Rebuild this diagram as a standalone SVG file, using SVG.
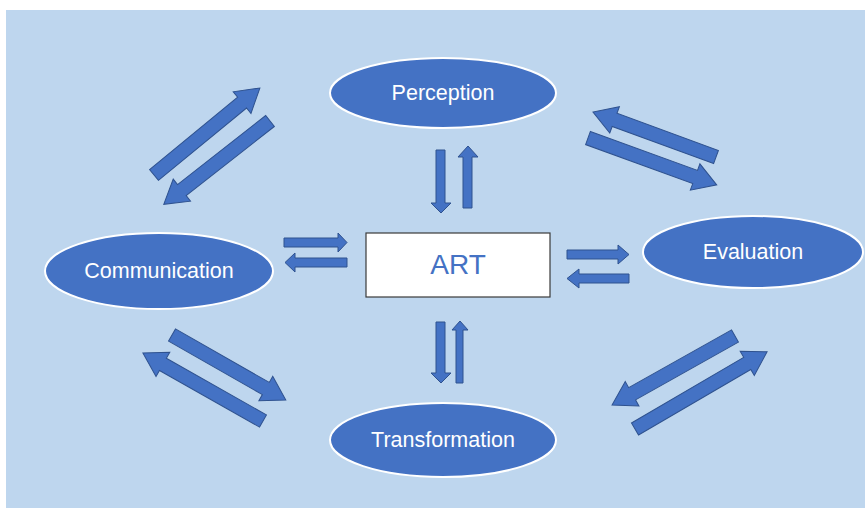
<svg xmlns="http://www.w3.org/2000/svg" width="865" height="510" viewBox="0 0 865 510">
  <style>
    .node { fill: #4472C4; stroke: #FFFFFF; stroke-width: 2; }
    .label { font-family: "Liberation Sans", Arial, sans-serif; font-size: 21.5px; fill: #FFFFFF; text-anchor: middle; dominant-baseline: central; }
    .arrow { fill: #4472C4; stroke: #2F528F; stroke-width: 1; stroke-linejoin: miter; }
    .core { fill: #FFFFFF; stroke: #3A3A3A; stroke-width: 1.2; }
    .core-label { font-family: "Liberation Sans", Arial, sans-serif; font-size: 28px; fill: #4472C4; text-anchor: middle; dominant-baseline: central; }
  </style>

  <!-- page -->
  <rect x="0" y="0" width="865" height="510" fill="#FFFFFF"/>
  <rect x="6" y="10" width="859" height="498" fill="#BED6EE"/>

  <!-- block arrows: local frame, tail at origin, pointing along +x -->
  <g id="connectors">
    <!-- Communication <-> Perception -->
    <path class="arrow" transform="translate(154,175) rotate(-39.4)" d="M0,-7 H114 V-14 L137,0 L114,14 V7 H0 Z"/>
    <path class="arrow" transform="translate(270,121) rotate(141.9)" d="M0,-7 H112 V-14 L135,0 L112,14 V7 H0 Z"/>
    <!-- Perception <-> Evaluation -->
    <path class="arrow" transform="translate(716,157) rotate(-159.9)" d="M0,-7 H108 V-14 L131,0 L108,14 V7 H0 Z"/>
    <path class="arrow" transform="translate(588,138) rotate(20)" d="M0,-7 H114 V-14 L137,0 L114,14 V7 H0 Z"/>
    <!-- Communication <-> Transformation -->
    <path class="arrow" transform="translate(172,335) rotate(29.7)" d="M0,-7 H108 V-14 L131,0 L108,14 V7 H0 Z"/>
    <path class="arrow" transform="translate(263,421) rotate(-150.5)" d="M0,-7 H115 V-14 L138,0 L115,14 V7 H0 Z"/>
    <!-- Evaluation <-> Transformation -->
    <path class="arrow" transform="translate(735,336) rotate(150.7)" d="M0,-7 H118 V-14 L141,0 L118,14 V7 H0 Z"/>
    <path class="arrow" transform="translate(635,429) rotate(-30.3)" d="M0,-7 H130 V-14 L153,0 L130,14 V7 H0 Z"/>

    <!-- ART <-> Perception -->
    <path class="arrow" d="M436,150 H445 V203 H451 L441,213 L431,203 H436 Z"/>
    <path class="arrow" d="M463,208 H472 V157 H478 L468,146 L458,157 H463 Z"/>
    <!-- ART <-> Transformation -->
    <path class="arrow" d="M436,322 H445 V373 H451 L441,383 L431,373 H436 Z"/>
    <path class="arrow" d="M456,383 H463 V330 H468 L460,321 L452,330 H456 Z"/>
    <!-- ART <-> Communication -->
    <path class="arrow" d="M284,238 H338 V233 L347,242.5 L338,252 V247 H284 Z"/>
    <path class="arrow" d="M347,258 H295 V253 L285,262.5 L295,272 V267 H347 Z"/>
    <!-- ART <-> Evaluation -->
    <path class="arrow" d="M567,250 H618 V245 L629,254.5 L618,264 V259 H567 Z"/>
    <path class="arrow" d="M629,274 H579 V269 L567,278.5 L579,288 V283 H629 Z"/>
  </g>

  <g id="perception">
    <ellipse class="node" cx="443" cy="93" rx="113" ry="35"/>
    <text class="label" x="443" y="93">Perception</text>
  </g>

  <g id="communication">
    <ellipse class="node" cx="159" cy="271" rx="114" ry="38"/>
    <text class="label" x="159" y="271">Communication</text>
  </g>

  <g id="evaluation">
    <ellipse class="node" cx="753" cy="252" rx="110" ry="36"/>
    <text class="label" x="753" y="252">Evaluation</text>
  </g>

  <g id="transformation">
    <ellipse class="node" cx="443" cy="440" rx="113" ry="37"/>
    <text class="label" x="443" y="440">Transformation</text>
  </g>

  <g id="art">
    <rect class="core" x="366" y="233" width="184" height="64"/>
    <text class="core-label" x="458" y="264">ART</text>
  </g>
</svg>
